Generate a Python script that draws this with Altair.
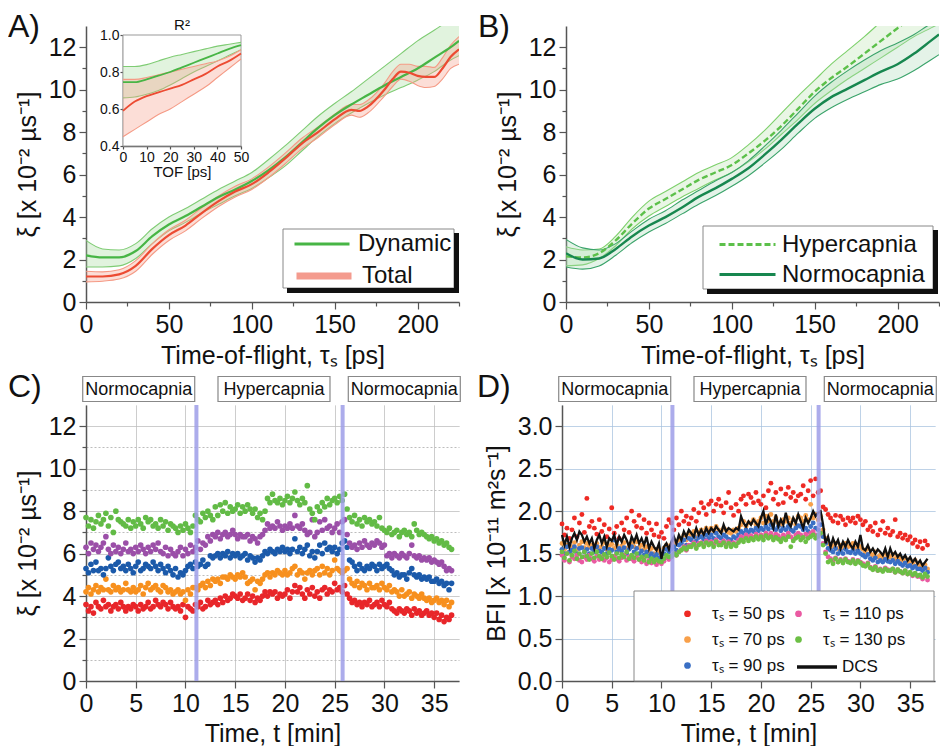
import altair as alt
import pandas as pd

FONT = "Liberation Sans"
AXC = "#555555"
W, H = 373, 276

PANEL_LABELS = ["A)", "B)", "C)", "D)"]
XI_TITLE = "ξ [x 10⁻² µs⁻¹]"
TOF_TITLE = "Time-of-flight, τₛ [ps]"
TIME_TITLE = "Time, t [min]"
BFI_TITLE = "BFI [x 10⁻¹¹ m²s⁻¹]"

# ---------------- Panel A ----------------
A_SERIES = ["Dynamic", "Total"]
TAU_DYN = [0, 10, 20, 30, 40, 50, 60, 70, 80, 90, 100, 110, 120, 130, 140, 150, 160, 170, 180, 190, 200, 210, 220, 225]
DYN_MEAN = [2.2, 2.1, 2.1, 2.4, 3.1, 3.65, 4.05, 4.5, 4.95, 5.3, 5.7, 6.2, 6.8, 7.5, 8.2, 8.8, 9.3, 9.75, 10.2, 10.6, 11.0, 11.5, 12.0, 12.3]
DYN_UP = [2.9, 2.5, 2.45, 2.75, 3.45, 4.0, 4.4, 4.85, 5.3, 5.7, 6.1, 6.7, 7.35, 8.05, 8.75, 9.35, 9.9, 10.5, 11.1, 11.7, 12.3, 12.8, 13.3, 13.5]
DYN_LO = [1.65, 1.65, 1.7, 2.05, 2.75, 3.35, 3.75, 4.2, 4.6, 5.0, 5.35, 5.85, 6.4, 7.1, 7.8, 8.4, 8.9, 9.35, 9.75, 10.1, 10.45, 10.85, 11.4, 11.6]
TAU_TOT = [0, 10, 20, 30, 40, 50, 60, 70, 80, 90, 100, 110, 120, 130, 140, 150, 160, 165, 170, 180, 185, 190, 195, 200, 205, 210, 215, 220, 225]
TOT_MEAN = [1.2, 1.2, 1.3, 1.7, 2.5, 3.15, 3.6, 4.2, 4.75, 5.2, 5.55, 6.1, 6.75, 7.45, 8.0, 8.6, 9.05, 9.0, 9.2, 10.0, 10.5, 10.85, 10.8, 10.65, 10.6, 10.6, 11.0, 11.55, 11.9]
TOT_UP = [1.45, 1.42, 1.52, 1.95, 2.75, 3.4, 3.85, 4.45, 5.0, 5.45, 5.8, 6.35, 7.0, 7.7, 8.25, 8.85, 9.3, 9.3, 9.5, 10.3, 10.85, 11.2, 11.2, 11.1, 11.1, 11.05, 11.5, 12.1, 12.5]
TOT_LO = [0.95, 0.98, 1.08, 1.45, 2.25, 2.9, 3.35, 3.95, 4.5, 4.95, 5.3, 5.85, 6.5, 7.2, 7.75, 8.35, 8.8, 8.7, 8.9, 9.7, 10.15, 10.5, 10.4, 10.2, 10.1, 10.15, 10.5, 11.0, 11.2]
A_LINE = ["#47b545", "#ec4b32"]
A_BAND = ["#a8dca0", "#f7a08c"]
A_EDGE = ["#7fcc74", "#f59a85"]

# inset (R^2)
TOF = [0, 5, 10, 15, 20, 25, 30, 35, 40, 45, 50]
R2_DYN_MEAN = [0.745, 0.745, 0.76, 0.78, 0.80, 0.825, 0.85, 0.875, 0.90, 0.925, 0.945]
R2_DYN_UP = [0.83, 0.83, 0.84, 0.86, 0.88, 0.895, 0.91, 0.925, 0.94, 0.95, 0.96]
R2_DYN_LO = [0.66, 0.665, 0.68, 0.70, 0.73, 0.765, 0.80, 0.83, 0.86, 0.89, 0.92]
R2_TOT_MEAN = [0.59, 0.64, 0.67, 0.69, 0.71, 0.73, 0.76, 0.79, 0.83, 0.86, 0.90]
R2_TOT_UP = [0.76, 0.76, 0.77, 0.785, 0.80, 0.815, 0.83, 0.845, 0.86, 0.885, 0.92]
R2_TOT_LO = [0.45, 0.49, 0.53, 0.57, 0.60, 0.64, 0.68, 0.72, 0.77, 0.82, 0.87]

# ---------------- Panel B ----------------
B_SERIES = ["Hypercapnia", "Normocapnia"]
TAU_HYP = [0, 10, 20, 30, 40, 50, 60, 70, 80, 90, 100, 110, 120, 130, 140, 150, 160, 170, 180, 190, 200, 210, 220, 225]
HYP_MEAN = [2.15, 2.1, 2.3, 2.9, 3.7, 4.4, 4.85, 5.3, 5.75, 6.1, 6.45, 7.0, 7.6, 8.3, 9.1, 9.9, 10.55, 11.1, 11.7, 12.3, 12.9, 13.5, 14.1, 14.4]
HYP_UP = [2.6, 2.45, 2.5, 3.1, 4.0, 4.75, 5.2, 5.65, 6.1, 6.45, 6.8, 7.4, 8.1, 8.9, 9.7, 10.45, 11.2, 11.85, 12.5, 13.2, 13.9, 14.6, 15.3, 15.6]
HYP_LO = [1.7, 1.75, 2.05, 2.65, 3.45, 4.05, 4.5, 4.95, 5.35, 5.75, 6.1, 6.6, 7.2, 7.9, 8.6, 9.35, 9.95, 10.5, 11.0, 11.5, 12.0, 12.5, 12.9, 13.1]
TAU_NOR = TAU_HYP
NOR_MEAN = [2.3, 2.0, 2.05, 2.5, 3.1, 3.6, 4.0, 4.45, 4.95, 5.35, 5.8, 6.3, 6.95, 7.65, 8.4, 9.1, 9.65, 10.05, 10.45, 10.85, 11.2, 11.7, 12.3, 12.6]
NOR_UP = [2.95, 2.55, 2.45, 2.75, 3.35, 3.9, 4.3, 4.8, 5.25, 5.7, 6.1, 6.65, 7.35, 8.1, 8.9, 9.7, 10.35, 10.9, 11.4, 11.85, 12.2, 12.6, 13.1, 13.3]
NOR_LO = [1.65, 1.55, 1.7, 2.2, 2.8, 3.3, 3.7, 4.15, 4.6, 5.0, 5.45, 5.95, 6.55, 7.2, 7.95, 8.65, 9.15, 9.55, 9.9, 10.25, 10.5, 10.9, 11.4, 11.65]
B_LINE = ["#5cc04a", "#17874f"]
B_BAND = ["#b5e0aa", "#a6d6b4"]
B_EDGE = ["#7dd06b", "#3aa36a"]

# ---------------- Panel C / D (time courses) ----------------
T_STEP = 0.25
N_T = 148
TS_LABELS = ["τₛ = 50 ps", "τₛ = 70 ps", "τₛ = 90 ps", "τₛ = 110 ps", "τₛ = 130 ps"]
C_COLORS = ["#e8262a", "#f7901e", "#1b5aaa", "#9b4fa8", "#62bb46"]
D_COLORS = ["#ee2a24", "#f8a04a", "#3a6fc4", "#ea5aa2", "#6cbf45"]

C_50 = [3.6,3.3,3.5,3.2, 3.7,3.5,3.4,3.8, 3.5,3.6,3.3,3.5, 3.6,3.4,3.7,3.5, 3.3,3.5,3.4,3.6, 3.5,3.3,3.6,3.4, 3.5,3.7,3.4,3.5, 3.8,3.6,3.5,3.7, 3.6,3.4,3.7,3.5, 3.4,3.5,3.3,3.6,
        3.0,3.5,3.4,3.3, 3.6,3.5,3.7,3.4, 3.5,3.8,3.6,3.7, 3.8,3.6,3.9,3.7, 4.0,3.8,3.9,4.1, 4.0,3.9,4.1,3.8, 3.9,4.1,3.8,4.0, 3.7,3.9,3.8,4.0, 4.2,4.0,4.2,4.1, 4.2,3.9,4.1,4.0,
        4.1,4.3,3.9,4.2, 4.5,4.2,4.4,4.1, 3.9,4.3,4.1,4.4, 4.0,4.2,3.9,4.3, 4.4,4.1,4.3,4.2, 4.6,4.3,4.4,4.2, 4.5,4.1,3.9,3.7, 3.8,3.6,3.7,3.5, 3.7,3.6,3.8,3.5, 3.6,3.7,3.5,3.8,
        3.6,3.5,3.7,3.4, 3.3,3.2,3.4,3.3, 3.2,3.4,3.3,3.1, 3.4,3.2,3.3,3.1, 3.2,3.3,3.1,3.2, 3.0,3.2,2.9,3.1, 2.8,3.0,2.9,3.1]
C_70 = [4.2,4.4,4.1,4.3, 4.5,4.2,4.4,4.3, 4.8,4.3,4.2,4.5, 4.3,4.4,4.2,4.3, 4.6,4.3,4.2,4.4, 4.2,4.3,4.5,4.1, 4.4,4.6,4.3,4.4, 4.5,4.3,4.2,4.5, 4.4,4.2,4.3,4.1, 4.2,4.3,4.1,4.2,
        3.8,4.3,4.1,4.4, 4.4,4.3,4.5,4.6, 4.4,4.7,4.5,4.8, 4.7,4.8,4.6,4.9, 4.9,4.8,5.0,4.9, 4.8,5.0,4.9,5.1, 4.9,4.6,4.7,4.8, 4.3,4.7,4.6,4.8, 5.0,5.1,4.9,5.1, 5.0,5.2,5.1,5.0,
        5.2,5.0,5.1,5.3, 5.4,5.0,5.2,5.1, 4.8,5.1,5.2,5.0, 5.2,5.3,5.0,5.4, 5.1,5.3,5.0,5.2, 5.7,5.3,5.2,5.1, 5.2,5.3,4.8,4.6, 4.5,4.7,4.4,4.6, 4.5,4.3,4.6,4.4, 4.4,4.5,4.3,4.6,
        4.4,4.3,4.5,4.2, 4.3,4.2,4.0,4.3, 4.0,4.1,4.2,3.9, 4.1,4.0,3.9,4.1, 3.9,3.8,3.9,3.7, 3.8,3.9,3.7,3.8, 3.6,3.8,3.5,3.7]
C_90 = [5.3,5.1,5.5,5.2, 5.6,5.2,5.3,5.0, 5.3,5.8,5.4,5.2, 5.5,5.6,5.3,5.4, 5.2,5.5,5.3,5.1, 5.4,5.6,5.2,5.3, 5.5,5.4,5.3,5.6, 5.4,5.2,5.5,5.3, 5.1,5.4,5.2,5.0, 5.3,4.9,5.1,5.0,
        5.2,5.4,5.5,5.3, 5.6,5.4,5.5,5.7, 5.4,5.5,5.9,5.8, 5.9,6.0,5.8,6.0, 5.9,6.1,5.8,6.0, 5.9,6.0,5.8,5.9, 6.0,5.7,5.9,5.8, 5.6,5.8,5.7,5.9, 6.1,6.0,6.2,6.1, 6.0,6.2,6.1,6.3,
        6.1,6.2,6.0,6.2, 6.7,6.1,6.3,6.0, 6.2,6.4,5.9,6.1, 5.8,6.1,6.4,6.0, 6.5,6.2,6.3,6.1, 6.3,6.0,6.2,6.5, 6.6,6.3,5.7,5.6, 5.4,5.2,5.5,5.3, 5.2,5.4,5.3,5.5, 5.4,5.2,5.5,5.3,
        5.4,5.5,5.3,5.2, 5.0,5.1,4.9,5.0, 5.0,4.8,5.1,5.3, 5.0,4.9,5.0,4.8, 4.9,4.8,4.9,4.7, 4.7,4.8,4.6,4.7, 4.5,4.6,4.3,4.6]
C_110 = [6.3,6.0,6.5,6.2, 6.4,6.1,6.3,6.5, 6.8,6.2,6.0,6.4, 6.1,6.3,6.0,6.2, 6.5,6.1,6.2,6.0, 6.3,6.1,6.4,6.2, 6.0,6.3,6.1,6.4, 6.2,6.5,6.1,6.0, 6.3,5.9,6.2,6.0, 5.9,6.1,6.3,5.9,
         6.2,6.0,6.4,6.1, 6.3,6.6,6.2,6.5, 6.4,6.8,6.6,6.9, 6.8,7.0,6.7,6.9, 7.0,6.8,6.9,7.1, 6.9,6.7,6.9,6.8, 6.8,6.9,6.6,6.8, 6.7,6.5,6.8,6.9, 7.1,7.4,7.2,7.3, 7.2,7.5,7.3,7.1,
         7.3,7.2,7.4,7.2, 7.8,7.3,7.2,7.4, 7.1,6.9,7.0,7.6, 6.8,7.0,7.5,7.1, 7.6,7.2,7.3,7.0, 7.2,7.4,7.0,7.5, 7.6,6.9,6.5,6.3, 6.4,6.2,6.5,6.3, 6.6,6.4,6.3,6.5, 6.4,6.6,6.5,6.3,
         6.4,5.9,6.0,5.8, 6.0,5.9,5.8,6.0, 5.9,5.8,6.0,6.4, 5.9,5.8,5.9,5.7, 5.8,5.7,5.8,5.6, 5.7,5.6,5.5,5.6, 5.4,5.2,5.3,5.2]
C_130 = [7.7,7.3,7.6,7.2, 7.5,7.8,7.4,7.6, 7.9,7.3,7.7,7.0, 8.0,7.6,7.5,7.4, 7.3,7.6,7.2,7.5, 7.3,7.6,7.4,7.2, 7.7,7.5,7.6,7.3, 7.4,7.2,7.6,7.3, 7.5,7.1,7.4,7.3, 7.2,7.0,7.3,7.1,
         7.4,7.2,7.0,7.3, 7.8,7.6,7.5,7.9, 7.7,8.0,7.8,7.6, 8.2,7.8,8.3,8.0, 8.4,7.9,8.2,8.0, 8.1,8.3,7.9,8.2, 8.0,8.3,8.1,7.9, 8.1,7.7,7.9,7.6, 8.0,8.6,8.4,8.8, 8.5,8.4,8.6,8.3,
         8.5,8.7,8.4,8.6, 8.9,8.5,8.3,8.6, 8.4,9.2,8.1,7.9, 7.6,8.2,8.0,8.4, 8.2,8.6,8.3,8.5, 8.6,8.4,8.7,8.5, 8.8,8.1,7.7,7.5, 7.8,7.4,7.6,7.3, 7.7,7.5,7.6,7.4, 7.5,7.3,7.7,7.2,
         7.1,7.0,7.2,6.9, 7.0,7.1,6.8,7.0, 7.1,6.9,7.0,6.8, 7.4,7.1,6.9,7.0, 6.9,6.8,6.7,6.8, 6.6,6.7,6.5,6.6, 6.4,6.5,6.3,6.2]

D_50 = [1.85,1.72,1.80,1.68, 1.78,1.92,1.70,1.86, 1.96,1.75,2.15,1.82, 1.88,1.80,1.73,1.90, 1.76,1.84,1.70,1.79, 2.04,1.74,1.82,1.68, 1.86,1.78,1.92,1.75, 2.00,1.88,1.82,1.95, 1.80,1.90,1.74,1.86, 1.78,1.72,1.85,1.70,
        1.75,1.68,1.82,1.90, 1.86,1.78,1.92,1.84, 2.00,1.88,1.94,1.85, 1.92,2.02,1.88,1.98, 2.10,2.04,1.96,2.08, 2.12,2.00,2.08,2.14, 2.06,1.98,2.10,2.22, 2.04,1.95,2.08,2.00, 2.14,2.18,2.08,2.20, 2.16,2.10,2.22,2.12,
        2.08,2.18,2.04,2.24, 2.33,2.14,2.22,2.08, 2.26,2.10,2.20,2.28, 2.16,2.22,2.12,2.18, 2.20,2.30,2.14,2.24, 2.36,2.18,2.38,2.22, 2.24,2.05,2.02,1.96, 1.92,1.88,1.95,1.86, 1.94,1.90,1.84,1.92, 1.88,1.92,1.86,1.94,
        1.90,1.84,1.88,1.78, 1.82,1.76,1.86,1.72, 1.78,1.88,1.74,1.80, 1.72,1.76,1.90,1.70, 1.74,1.68,1.72,1.66, 1.70,1.62,1.66,1.58, 1.64,1.56,1.65,1.60]
D_70 = [1.62,1.55,1.60,1.52, 1.58,1.63,1.55,1.60, 1.64,1.57,1.62,1.58, 1.60,1.55,1.62,1.57, 1.58,1.63,1.55,1.59, 1.61,1.56,1.60,1.54, 1.59,1.63,1.56,1.60, 1.62,1.58,1.64,1.57, 1.60,1.55,1.58,1.52, 1.56,1.50,1.55,1.52,
        1.48,1.56,1.60,1.58, 1.60,1.64,1.62,1.66, 1.68,1.72,1.66,1.74, 1.72,1.76,1.70,1.75, 1.78,1.74,1.80,1.76, 1.80,1.77,1.82,1.78, 1.76,1.80,1.78,1.75, 1.74,1.78,1.76,1.80, 1.84,1.88,1.82,1.86, 1.86,1.90,1.84,1.88,
        1.92,1.86,1.94,1.88, 1.96,1.88,1.92,1.86, 1.84,1.90,1.88,1.92, 1.86,1.90,1.84,1.94, 1.92,1.88,1.95,1.90, 2.08,1.92,1.96,1.90, 1.94,1.78,1.68,1.62, 1.60,1.58,1.62,1.56, 1.60,1.57,1.62,1.58, 1.59,1.62,1.56,1.60,
        1.58,1.55,1.52,1.56, 1.50,1.48,1.52,1.46, 1.48,1.45,1.50,1.47, 1.46,1.49,1.44,1.47, 1.44,1.42,1.45,1.40, 1.41,1.38,1.42,1.37, 1.36,1.34,1.37,1.32]
D_90 = [1.55,1.50,1.58,1.52, 1.54,1.58,1.50,1.56, 1.57,1.52,1.55,1.50, 1.56,1.52,1.58,1.53, 1.52,1.56,1.50,1.55, 1.54,1.66,1.52,1.56, 1.53,1.57,1.50,1.55, 1.58,1.52,1.56,1.50, 1.53,1.48,1.52,1.47, 1.50,1.46,1.49,1.45,
        1.44,1.50,1.55,1.52, 1.55,1.58,1.54,1.60, 1.62,1.66,1.60,1.68, 1.66,1.70,1.65,1.69, 1.70,1.67,1.72,1.68, 1.72,1.68,1.74,1.70, 1.68,1.72,1.70,1.67, 1.66,1.70,1.68,1.72, 1.76,1.74,1.78,1.75, 1.78,1.76,1.80,1.77,
        1.80,1.78,1.82,1.79, 1.84,1.80,1.78,1.82, 1.77,1.80,1.78,1.82, 1.78,1.76,1.80,1.83, 1.82,1.78,1.80,1.76, 1.82,1.86,1.80,1.78, 1.84,1.70,1.62,1.56, 1.54,1.52,1.56,1.50, 1.53,1.50,1.55,1.52, 1.51,1.54,1.50,1.53,
        1.50,1.48,1.46,1.49, 1.44,1.42,1.45,1.40, 1.42,1.40,1.43,1.41, 1.40,1.42,1.38,1.41, 1.38,1.36,1.39,1.35, 1.36,1.33,1.35,1.32, 1.32,1.30,1.33,1.28]
D_110 = [1.48,1.42,1.50,1.40, 1.46,1.44,1.48,1.42, 1.40,1.46,1.43,1.48, 1.44,1.41,1.47,1.43, 1.46,1.42,1.45,1.40, 1.43,1.47,1.44,1.41, 1.45,1.48,1.42,1.46, 1.44,1.41,1.46,1.43, 1.40,1.44,1.38,1.42, 1.39,1.42,1.37,1.40,
         1.38,1.41,1.45,1.43, 1.46,1.50,1.48,1.52, 1.55,1.58,1.54,1.60, 1.60,1.63,1.58,1.62, 1.63,1.60,1.65,1.62, 1.64,1.61,1.66,1.63, 1.62,1.65,1.60,1.64, 1.60,1.63,1.61,1.66, 1.70,1.68,1.72,1.69, 1.71,1.69,1.73,1.70,
         1.72,1.70,1.74,1.71, 1.74,1.70,1.73,1.71, 1.68,1.72,1.70,1.74, 1.70,1.67,1.72,1.74, 1.72,1.69,1.73,1.70, 1.74,1.76,1.72,1.70, 1.74,1.62,1.52,1.46, 1.44,1.42,1.45,1.40, 1.43,1.40,1.44,1.41, 1.40,1.43,1.39,1.42,
         1.40,1.38,1.36,1.39, 1.34,1.32,1.35,1.30, 1.32,1.30,1.33,1.31, 1.30,1.32,1.28,1.31, 1.29,1.27,1.30,1.26, 1.27,1.24,1.26,1.23, 1.23,1.20,1.24,1.19]
D_130 = [1.52,1.45,1.50,1.42, 1.48,1.53,1.44,1.50, 1.46,1.52,1.47,1.43, 1.50,1.45,1.52,1.47, 1.44,1.49,1.46,1.51, 1.47,1.43,1.50,1.45, 1.49,1.46,1.52,1.44, 1.48,1.45,1.50,1.43, 1.46,1.42,1.47,1.40, 1.44,1.40,1.43,1.41,
         1.40,1.44,1.48,1.46, 1.47,1.50,1.48,1.52, 1.54,1.57,1.55,1.58, 1.58,1.61,1.56,1.60, 1.62,1.58,1.63,1.60, 1.62,1.58,1.64,1.60, 1.60,1.63,1.58,1.62, 1.58,1.61,1.59,1.63, 1.66,1.64,1.68,1.65, 1.68,1.66,1.70,1.67,
         1.70,1.66,1.71,1.68, 1.70,1.66,1.69,1.67, 1.64,1.68,1.66,1.70, 1.58,1.65,1.68,1.70, 1.66,1.69,1.64,1.68, 1.70,1.72,1.68,1.71, 1.74,1.60,1.50,1.40, 1.42,1.38,1.44,1.40, 1.42,1.39,1.43,1.40, 1.39,1.42,1.38,1.41,
         1.39,1.36,1.35,1.38, 1.33,1.31,1.34,1.30, 1.31,1.29,1.32,1.30, 1.30,1.32,1.28,1.31, 1.29,1.27,1.30,1.26, 1.28,1.25,1.27,1.24, 1.25,1.22,1.26,1.23]
D_DCS = [1.72,1.60,1.70,1.58, 1.68,1.74,1.66,1.76, 1.72,1.64,1.70,1.62, 1.68,1.56,1.66,1.72, 1.62,1.70,1.58,1.68, 1.65,1.72,1.60,1.70, 1.64,1.72,1.66,1.58, 1.70,1.64,1.72,1.62, 1.68,1.60,1.70,1.56, 1.64,1.58,1.54,1.62,
         1.44,1.58,1.62,1.55, 1.64,1.70,1.62,1.72, 1.66,1.76,1.70,1.78, 1.74,1.70,1.80,1.72, 1.78,1.72,1.80,1.74, 1.80,1.76,1.82,1.78, 1.74,1.84,1.76,1.80, 1.78,1.76,1.80,1.78, 1.94,1.86,1.82,1.88, 1.84,1.90,1.86,1.82,
         1.92,2.00,1.84,1.94, 1.88,1.80,1.96,1.82, 1.90,1.84,1.98,1.86, 1.82,1.92,1.86,1.96, 1.88,1.80,1.92,1.86, 1.92,2.00,1.94,1.98, 2.00,1.84,1.62,1.70, 1.58,1.68,1.60,1.66, 1.56,1.64,1.58,1.66, 1.60,1.56,1.64,1.58,
         1.72,1.56,1.54,1.60, 1.52,1.56,1.50,1.55, 1.52,1.48,1.56,1.46, 1.56,1.48,1.52,1.46, 1.50,1.44,1.48,1.42, 1.46,1.40,1.44,1.38, 1.42,1.36,1.40,1.44]

EVENT_T = [11.1, 25.8]
PHASE_NAMES = ["Normocapnia", "Hypercapnia", "Normocapnia"]
PHASE_MID = [5.3, 18.9, 32.0]

# ---------------- helpers ----------------
def tau_axis():
    return alt.Axis(values=list(range(0, 226, 25)), labelExpr="datum.value % 50 === 0 ? datum.label : ''",
                    tickSize={"condition": {"test": "datum.value % 50 !== 0", "value": 4}, "value": 7},
                    title=TOF_TITLE, grid=False, labelPadding=3, titlePadding=6)


def xi_axis(grid=False):
    if grid:
        kw = dict(grid=True, gridColor="#bdbdbd", gridWidth=1,
                  gridDash={"condition": {"test": "datum.value % 2 !== 0", "value": [2, 2]}, "value": [1, 0]})
    else:
        kw = dict(grid=False)
    return alt.Axis(values=list(range(0, 13)), labelExpr="datum.value % 2 === 0 ? datum.label : ''",
                    tickSize={"condition": {"test": "datum.value % 2 !== 0", "value": 4}, "value": 7},
                    title=XI_TITLE, labelPadding=3, titlePadding=8, **kw)


def time_axis(gcol):
    return alt.Axis(values=[i * 2.5 for i in range(16)], labelExpr="datum.value % 5 === 0 ? datum.label : ''",
                    tickSize={"condition": {"test": "datum.value % 5 !== 0", "value": 4}, "value": 7},
                    grid=True, gridColor=gcol, gridWidth=1,
                    gridDash={"condition": {"test": "datum.value % 5 !== 0", "value": [2, 2]}, "value": [1, 0]},
                    title=TIME_TITLE, labelPadding=3, titlePadding=5)


def bfi_axis():
    return alt.Axis(values=[i * 0.25 for i in range(13)], format=".1f",
                    labelExpr="(datum.value * 2) % 1 === 0 ? datum.label : ''",
                    tickSize={"condition": {"test": "(datum.value * 2) % 1 !== 0", "value": 4}, "value": 7},
                    grid=True, gridColor="#a9c3df", gridWidth=1,
                    gridDash={"condition": {"test": "(datum.value * 2) % 1 !== 0", "value": [2, 2]}, "value": [1, 0]},
                    title=BFI_TITLE, labelPadding=3, titlePadding=8)


def panel_label(text, x, y):
    return alt.Chart(pd.DataFrame({"lab": [text]})).mark_text(
        fontSize=32, align="left", baseline="alphabetic", color="#111").encode(
        x=alt.value(x), y=alt.value(y), text="lab:N")


def px_rect(x, x2, y, y2, fill, stroke=None):
    kw = dict(fill=fill)
    if stroke:
        kw.update(stroke=stroke, strokeWidth=1)
    return alt.Chart(pd.DataFrame({"k": [0]})).mark_rect(**kw).encode(
        x=alt.value(x), x2=alt.value(x2), y=alt.value(y), y2=alt.value(y2))


def legend_frame(x, x2, y, y2, shadow=True):
    layers = [px_rect(x, x2, y, y2, "white", "#888")]
    if shadow:
        layers.append(px_rect(x2, x2 + 5, y + 4, y2 + 5, "#111"))
        layers.append(px_rect(x + 4, x2 + 5, y2, y2 + 5, "#111"))
    return layers


def band_df(tau, lo, up, mean, name, xname="tau"):
    return pd.DataFrame({xname: tau, "lo": lo, "up": up, "mean": mean, "series": name})


def band_layers(df, names, band_cols, edge_cols, xenc, yscale, yaxis, opacity, clip=True):
    """Per-series shaded band plus its two thin edge lines, coloured by constant values."""
    out = []
    for name, bc, ec in zip(names, band_cols, edge_cols):
        base = alt.Chart(df).transform_filter(alt.datum.series == name)
        out.append(base.mark_area(color=bc, opacity=opacity, clip=clip, interpolate="monotone").encode(
            x=xenc(), y=alt.Y("lo:Q", scale=yscale, axis=yaxis), y2="up:Q"))
        for fld in ["lo", "up"]:
            out.append(base.mark_line(color=ec, strokeWidth=1.1, clip=clip, interpolate="monotone").encode(
                x=xenc(), y=alt.Y(f"{fld}:Q", scale=yscale, axis=yaxis)))
    return out


def one_legend(x, y, size, **kw):
    return alt.Legend(title=None, orient="none", legendX=x, legendY=y, padding=0, labelFontSize=24,
                      symbolType="stroke", symbolSize=size, labelColor="#111", zindex=1, **kw)


YS = alt.Scale(domain=[0, 13], nice=False, zero=False)
INDEP = dict(color="independent", stroke="independent", strokeDash="independent")

# ---------------- Panel A chart ----------------
dfA = pd.concat([band_df(TAU_DYN, DYN_LO, DYN_UP, DYN_MEAN, "Dynamic"),
                 band_df(TAU_TOT, TOT_LO, TOT_UP, TOT_MEAN, "Total")])
xA = lambda: alt.X("tau:Q", scale=alt.Scale(domain=[0, 225], nice=False, zero=False), axis=tau_axis())
meanDyn = alt.Chart(dfA).transform_filter(alt.datum.series == A_SERIES[0]).mark_line(
    strokeWidth=2.2, clip=True, interpolate="monotone").encode(
    x=xA(), y=alt.Y("mean:Q", scale=YS, axis=xi_axis()),
    stroke=alt.Stroke("series:N", scale=alt.Scale(domain=[A_SERIES[0]], range=[A_LINE[0]]),
                      legend=one_legend(207, 189, 3025, symbolStrokeWidth=3, labelOffset=7)))
meanTot = alt.Chart(dfA).transform_filter(alt.datum.series == A_SERIES[1]).mark_line(
    strokeWidth=2.2, clip=True, interpolate="monotone").encode(
    x=xA(), y=alt.Y("mean:Q", scale=YS, axis=xi_axis()),
    color=alt.Color("series:N", scale=alt.Scale(domain=[A_SERIES[1]], range=[A_LINE[1]]),
                    legend=one_legend(207, 219, 3025, symbolStrokeWidth=7, symbolOpacity=0.55, labelOffset=7)))
mainA = alt.layer(*band_layers(dfA, A_SERIES, A_BAND, A_EDGE, xA, YS, xi_axis(), 0.35), meanDyn, meanTot,
                  *legend_frame(197, 368, 203, 262), panel_label(PANEL_LABELS[0], -78, 11))

dfI = pd.concat([band_df(TOF, R2_DYN_LO, R2_DYN_UP, R2_DYN_MEAN, "Dynamic", "tof"),
                 band_df(TOF, R2_TOT_LO, R2_TOT_UP, R2_TOT_MEAN, "Total", "tof")])
xI_scale = alt.Scale(domain=[0, 50], range=[37, 155], nice=False, zero=False)
yI_scale = alt.Scale(domain=[0.4, 1.0], range=[120, 9], nice=False, zero=False)
xI_axis = alt.Axis(orient="bottom", offset=-156, values=[0, 10, 20, 30, 40, 50], title="TOF [ps]",
                   labelFontSize=14, titleFontSize=15, titlePadding=0, tickSize=3, labelPadding=1, grid=False,
                   labelOverlap=False, labelBound=False, labelFlush=False)
yI_axis = alt.Axis(orient="left", offset=-37, values=[0.4, 0.6, 0.8, 1.0], format=".1f", title=None,
                   labelFontSize=14, tickSize=3, labelPadding=1, grid=False, labelOverlap=False, labelFlush=False)
xI = lambda: alt.X("tof:Q", scale=xI_scale, axis=xI_axis)
frameI = alt.Chart(pd.DataFrame({"tof": [0], "tof2": [50], "lo": [0.4], "up": [1.0]})).mark_rect(
    fill="white", stroke="#999", strokeWidth=1).encode(
    x=xI(), x2="tof2:Q", y=alt.Y("lo:Q", scale=yI_scale, axis=yI_axis), y2="up:Q")
meanI = [alt.Chart(dfI).transform_filter(alt.datum.series == nm).mark_line(
    color=lc, strokeWidth=1.8, interpolate="monotone").encode(
    x=xI(), y=alt.Y("mean:Q", scale=yI_scale, axis=yI_axis)) for nm, lc in zip(A_SERIES, A_LINE)]
r2I = alt.Chart(pd.DataFrame({"tof": [25], "r2": [1.0], "t": ["R²"]})).mark_text(
    fontSize=15, dy=-10, color="#111").encode(x=xI(), y=alt.Y("r2:Q", scale=yI_scale, axis=yI_axis), text="t:N")
insetA = alt.layer(frameI, *band_layers(dfI, A_SERIES, A_BAND, A_EDGE, xI, yI_scale, yI_axis, 0.35, clip=False),
                   *meanI, r2I)

chartA = alt.layer(mainA, insetA).resolve_scale(x="independent", y="independent").properties(width=W, height=H)

# ---------------- Panel B chart ----------------
dfB = pd.concat([band_df(TAU_HYP, HYP_LO, HYP_UP, HYP_MEAN, "Hypercapnia"),
                 band_df(TAU_NOR, NOR_LO, NOR_UP, NOR_MEAN, "Normocapnia")])
meanHyp = alt.Chart(dfB).transform_filter(alt.datum.series == B_SERIES[0]).mark_line(
    strokeWidth=2.4, strokeDash=[6, 3], clip=True, interpolate="monotone").encode(
    x=xA(), y=alt.Y("mean:Q", scale=YS, axis=xi_axis()),
    stroke=alt.Stroke("series:N", scale=alt.Scale(domain=[B_SERIES[0]], range=[B_LINE[0]]),
                      legend=one_legend(152, 189, 3136, symbolStrokeWidth=3, symbolDash=[6, 3], labelOffset=5)))
meanNor = alt.Chart(dfB).transform_filter(alt.datum.series == B_SERIES[1]).mark_line(
    strokeWidth=2.4, clip=True, interpolate="monotone").encode(
    x=xA(), y=alt.Y("mean:Q", scale=YS, axis=xi_axis()),
    color=alt.Color("series:N", scale=alt.Scale(domain=[B_SERIES[1]], range=[B_LINE[1]]),
                    legend=one_legend(152, 219, 3136, symbolStrokeWidth=3, labelOffset=5)))
chartB = alt.layer(*band_layers(dfB, B_SERIES, B_BAND, B_EDGE, xA, YS, xi_axis(), 0.3), meanHyp, meanNor,
                   *legend_frame(137, 367, 200, 263),
                   panel_label(PANEL_LABELS[1], -88, 11)).properties(width=W, height=H)

# ---------------- Panel C / D ----------------
T = [round(i * T_STEP, 2) for i in range(N_T)]
C_VALUES = [C_50, C_70, C_90, C_110, C_130]
D_VALUES = [D_50, D_70, D_90, D_110, D_130]


def long_df(values_list):
    return pd.concat([pd.DataFrame({"t": T, "v": vals, "series": lab})
                      for vals, lab in zip(values_list, TS_LABELS)])


XT = alt.Scale(domain=[0, 37.5], nice=False, zero=False)
dfEvents = pd.DataFrame({"t": EVENT_T})
dfPhase = pd.DataFrame({"t": PHASE_MID, "label": PHASE_NAMES})
BOX = "M-1,-0.223L1,-0.223L1,0.223L-1,0.223Z"


def phase_layers():
    box = alt.Chart(dfPhase).mark_point(shape=BOX, size=12544, filled=True, fill="white", stroke="#888",
                                        strokeWidth=1.2, opacity=1).encode(x=alt.X("t:Q", scale=XT), y=alt.value(-16))
    txt = alt.Chart(dfPhase).mark_text(fontSize=18, baseline="middle", color="#111").encode(
        x=alt.X("t:Q", scale=XT), y=alt.value(-15), text="label:N")
    return box, txt


def event_layer():
    return alt.Chart(dfEvents).mark_rule(strokeWidth=4, color="#9d9de8", opacity=0.85).encode(x=alt.X("t:Q", scale=XT))


ptsC = alt.Chart(long_df(C_VALUES)).mark_circle(size=32, opacity=1).encode(
    x=alt.X("t:Q", scale=XT, axis=time_axis("#bdbdbd")),
    y=alt.Y("v:Q", scale=YS, axis=xi_axis(grid=True)),
    color=alt.Color("series:N", scale=alt.Scale(domain=TS_LABELS, range=C_COLORS), legend=None))
boxC, txtC = phase_layers()
chartC = alt.layer(ptsC, event_layer(), boxC, txtC, panel_label(PANEL_LABELS[2], -78, -8)).properties(width=W, height=H)

YD = alt.Scale(domain=[0, 3.25], nice=False, zero=False)
legD = alt.Legend(title=None, orient="none", legendX=117, legendY=200, columns=2, padding=0,
                  labelFontSize=17, symbolType="circle", symbolSize=45,
                  columnPadding=5, rowPadding=8, labelOffset=16, labelColor="#111", zindex=1)
ptsD = alt.Chart(long_df(D_VALUES)).mark_circle(size=24, opacity=1).encode(
    x=alt.X("t:Q", scale=XT, axis=time_axis("#a9c3df")),
    y=alt.Y("v:Q", scale=YD, axis=bfi_axis()),
    color=alt.Color("series:N", scale=alt.Scale(domain=TS_LABELS, range=D_COLORS), legend=legD))
legDCS = alt.Legend(title=None, orient="none", legendX=233, legendY=240, padding=0, labelFontSize=17,
                    symbolType="stroke", symbolSize=1600, symbolStrokeWidth=3.5, labelOffset=3, labelColor="#111",
                    zindex=2)
lineD = alt.Chart(pd.DataFrame({"t": T, "v": D_DCS, "name": "DCS"})).mark_line(strokeWidth=2.3).encode(
    x=alt.X("t:Q", scale=XT), y=alt.Y("v:Q", scale=YD),
    stroke=alt.Stroke("name:N", scale=alt.Scale(domain=["DCS"], range=["#111111"]), legend=legDCS))
boxD, txtD = phase_layers()
chartD = alt.layer(ptsD, lineD, event_layer(), *legend_frame(72, 372, 186, 276, shadow=False), boxD, txtD,
                   panel_label(PANEL_LABELS[3], -85, -8)).properties(width=W, height=H)

top = alt.hconcat(chartA, chartB, spacing=18).resolve_scale(**INDEP).resolve_legend(
    color="independent", stroke="independent", strokeDash="independent")
bottom = alt.hconcat(chartC, chartD, spacing=14).resolve_scale(**INDEP).resolve_legend(
    color="independent", stroke="independent")
chart = alt.vconcat(top, bottom, spacing=3,
                    padding={"top": 3, "left": 0, "right": 0, "bottom": 0}).resolve_scale(**INDEP).resolve_legend(
    color="independent", stroke="independent", strokeDash="independent").configure(font=FONT).configure_view(
    stroke=None).configure_axis(
    labelFont=FONT, titleFont=FONT, labelFontSize=25, titleFontSize=25, titleFontWeight="normal",
    labelColor="#111", titleColor="#111", domainColor=AXC, tickColor=AXC, domainWidth=1.5, tickWidth=1.2,
    labelFlush=False
).configure_legend(labelFont=FONT).configure_text(font=FONT)

chart.save("out.html", embed_options={"renderer": "svg", "actions": False})
